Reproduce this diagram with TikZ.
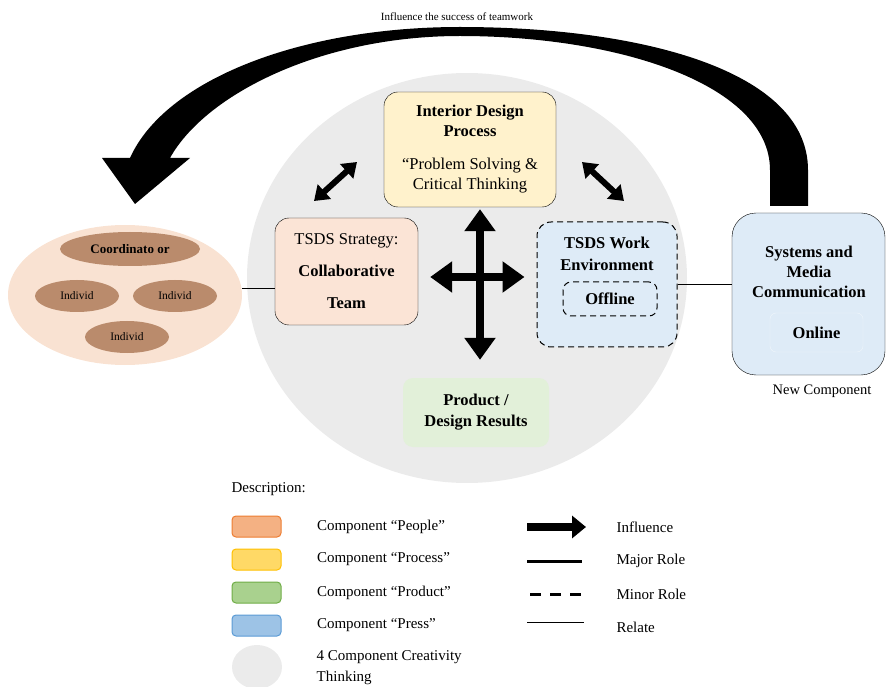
\documentclass[tikz,border=0pt]{standalone}
\usepackage{fontspec}
\setmainfont{Liberation Serif}
\usepackage{tikz}
\usetikzlibrary{positioning, arrows.meta, shapes.geometric, calc}
\definecolor{circle-gray}{RGB}{235,235,235}
\definecolor{people-light}{RGB}{249,226,210}
\definecolor{people-box}{RGB}{251,228,214}
\definecolor{people-brown}{RGB}{186,139,108}
\definecolor{process-light}{RGB}{255,242,204}
\definecolor{product-light}{RGB}{226,240,217}
\definecolor{press-light}{RGB}{222,235,247}
\definecolor{people-sw}{RGB}{244,177,131}
\definecolor{people-edge}{RGB}{237,125,49}
\definecolor{process-sw}{RGB}{255,217,102}
\definecolor{process-edge}{RGB}{255,192,0}
\definecolor{product-sw}{RGB}{169,209,142}
\definecolor{product-edge}{RGB}{112,173,71}
\definecolor{press-sw}{RGB}{157,195,230}
\definecolor{press-edge}{RGB}{91,155,213}

\begin{document}
\begin{tikzpicture}[x=1pt, y=-1pt,
	box/.style={draw, rounded corners=14pt, align=center, inner sep=0pt, font=\fontsize{16.5}{20}\selectfont},
	blob/.style={ellipse, fill=people-brown, inner sep=0pt, minimum width=84, minimum height=32, font=\fontsize{11.5}{13}\selectfont},
	dbl/.style={line width=8pt, {Triangle[width=30pt,length=22pt]}-{Triangle[width=30pt,length=22pt]}},
	dbs/.style={line width=6pt, {Triangle[width=19pt,length=14pt]}-{Triangle[width=19pt,length=14pt]}},
	swatch/.style={draw, line width=1pt, rounded corners=4pt, minimum width=49, minimum height=21},
	lbl/.style={anchor=west, align=left, font=\fontsize{15}{21}\selectfont}]
			\useasboundingbox (0,0) rectangle (887,687);
			% creativity circle
			\node[ellipse, fill=circle-gray, minimum width=440, minimum height=410] (crt) at (467,278) {};
			% big arc arrow
			\fill (808,206) -- (808,170) .. controls (808,70) and (640,27) .. (460,27)
				.. controls (300,27) and (165,80) .. (130,158) -- (102,158) -- (135,204) -- (190,158) -- (170,158)
				.. controls (205,95) and (320,36) .. (460,36) .. controls (620,36) and (770,85) .. (770,170) -- (770,206) -- cycle;
			\node[font=\fontsize{11}{12}\selectfont] (ttl) at (457,17) {Influence the success of teamwork};
			% people
			\node[ellipse, fill=people-light, minimum width=234, minimum height=140] (ppl) at (125,295) {};
			\node[blob, minimum width=140, minimum height=34, font=\bfseries\fontsize{13}{14}\selectfont] (crd) at (130,249) {Coordinato or};
			\node[blob] (ind1) at (77,296) {Individ};
			\node[blob] (ind2) at (175,296) {Individ};
			\node[blob] (ind3) at (127,337) {Individ};
			% boxes
			\node[box, fill=people-box, minimum width=143, minimum height=107] (strat) at (346.5,271.5) {TSDS Strategy:\\[12pt]\textbf{Collaborative}\\[12pt]\textbf{Team}};
			\node[box, fill=process-light, minimum width=172, minimum height=115] (proc) at (470,149.5) {\textbf{Interior Design}\\\textbf{Process}\\[13pt]“Problem Solving \&\\Critical Thinking};
			\node[box, line width=1pt, dash pattern=on 6pt off 4pt, fill=press-light, minimum width=140, minimum height=125] (work) at (607,284.5) {};
			\node[align=center, font=\bfseries\fontsize{16.5}{22}\selectfont] (wlbl) at (607,253.5) {TSDS Work\\Environment};
			\node[box, line width=1pt, dash pattern=on 6pt off 4pt, rounded corners=8pt, minimum width=94, minimum height=34, font=\bfseries\fontsize{16.5}{18}\selectfont] (off) at (610,299) {Offline};
			\node[box, rounded corners=24pt, fill=press-light, minimum width=153, minimum height=162] (sys) at (808.5,294) {};
			\node[align=center, font=\bfseries\fontsize{16.5}{20}\selectfont] (slbl) at (809,272) {Systems and\\Media\\Communication};
			\node[box, draw=white!55!press-light, rounded corners=6pt, minimum width=93, minimum height=39, font=\bfseries\fontsize{16.5}{18}\selectfont] (onl) at (816.5,332.5) {Online};
			\node[font=\fontsize{14.5}{16}\selectfont] (newc) at (822,391) {New Component};
			\node[box, draw=none, fill=product-light, rounded corners=10pt, minimum width=146, minimum height=69, font=\bfseries\fontsize{16.5}{21}\selectfont] (prod) at (476,412.5) {Product /\\Design Results};
			% arrows and relations
			\coordinate (ctr) at (480,277);
			\draw[dbl, shorten <=2pt, shorten >=18pt] (proc.south -| ctr) -- (prod.north -| ctr);
			\draw[dbl, shorten <=12pt, shorten >=12pt] (strat.east |- ctr) -- (work.west |- ctr);
			\coordinate (dl1) at (314,201);
			\coordinate (dl2) at (357,162);
			\coordinate (dr1) at (582,162);
			\coordinate (dr2) at (624,201);
			\draw[dbs] (dl1) -- (dl2);
			\draw[dbs] (dr1) -- (dr2);
			\draw ([yshift=7pt]ppl.east) -- ([yshift=7pt]ppl.east -| strat.west);
			\draw (work.east) -- (work.east -| sys.west);
			% description
			\node[lbl] (desc) at (228,489) {Description:};
			\node[swatch, fill=people-sw, draw=people-edge] (sw1) at (256.5,526.5) {};
			\node[swatch, fill=process-sw, draw=process-edge] (sw2) at (256.5,559.5) {};
			\node[swatch, fill=product-sw, draw=product-edge] (sw3) at (256.5,592.5) {};
			\node[swatch, fill=press-sw, draw=press-edge] (sw4) at (256.5,625.5) {};
			\node[ellipse, fill=circle-gray, minimum width=50, minimum height=44] (sw5) at (257,667) {};
			\node[lbl, right=32pt of sw1] (l1) {Component “People”};
			\node[lbl, right=32pt of sw2] (l2) {Component “Process”};
			\node[lbl, right=32pt of sw3] (l3) {Component “Product”};
			\node[lbl, right=32pt of sw4] (l4) {Component “Press”};
			\node[lbl, right=31pt of sw5, yshift=-1pt] (l5) {4 Component Creativity\\Thinking};
			\coordinate (a1) at (527,527);
			\coordinate (a2) at (586,527);
			\coordinate (b1) at (527,561);
			\coordinate (b2) at (582,561);
			\coordinate (c1) at (530,594);
			\coordinate (c2) at (584,594);
			\coordinate (d1) at (527,622);
			\coordinate (d2) at (584,622);
			\draw[line width=8pt, -{Triangle[width=22pt,length=14pt]}] (a1) -- (a2);
			\draw[line width=3pt] (b1) -- (b2);
			\draw[line width=3pt, dash pattern=on 11pt off 9pt] (c1) -- (c2);
			\draw[line width=1pt] (d1) -- (d2);
			\node[lbl] (l6) at (613,527) {Influence};
			\node[lbl] (l7) at (613,561) {Major Role};
			\node[lbl] (l8) at (613,594) {Minor Role};
			\node[lbl] (l9) at (613,627) {Relate};
		\end{tikzpicture}
\end{document}
